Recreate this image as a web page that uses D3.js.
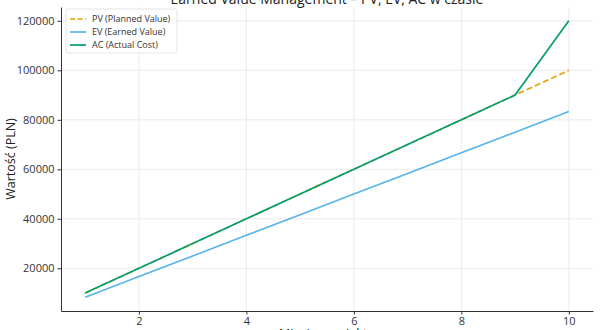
<!DOCTYPE html>
<html>
<head>
<meta charset="utf-8">
<script src="https://cdn.jsdelivr.net/npm/d3@7"></script>
<style>
  body { margin: 0; background: #fff; }
  svg { display: block; font-family: "Open Sans", sans-serif; }
  .tick text { fill: #333; font-size: 11px; font-family: "Open Sans", sans-serif; }
  .tick line { stroke: #333; }
  .domain { stroke: #333; }
</style>
</head>
<body>
<svg id="chart" width="600" height="330"></svg>
<script>
// months and series values (PLN)
var months = [1, 2, 3, 4, 5, 6, 7, 8, 9, 10];
var pv = [10000, 20000, 30000, 40000, 50000, 60000, 70000, 80000, 90000, 100000];
var ev = [8333, 16667, 25000, 33333, 41667, 50000, 58333, 66667, 75000, 83333];
var ac = [10000, 20000, 30000, 40000, 50000, 60000, 70000, 80000, 90000, 120000];
var xTicks = [2, 4, 6, 8, 10];
var yTicks = [20000, 40000, 60000, 80000, 100000, 120000];

var series = [
  {name: "PV (Planned Value)", values: pv, color: "#E69F00", dash: "6,3"},
  {name: "EV (Earned Value)", values: ev, color: "#56B4E9", dash: null},
  {name: "AC (Actual Cost)", values: ac, color: "#009E73", dash: null}
];

var svg = d3.select("#chart"),
    margin = {top: 7, right: 7, bottom: 19, left: 61},
    width = +svg.attr("width") - margin.left - margin.right,
    height = +svg.attr("height") - margin.top - margin.bottom,
    g = svg.append("g").attr("transform", "translate(" + margin.left + "," + margin.top + ")");

// matplotlib-like 5% padding
var xMin = d3.min(months), xMax = d3.max(months), xPad = (xMax - xMin) * 0.05;
var allY = pv.concat(ev, ac);
var yMin = d3.min(allY), yMax = d3.max(allY), yPad = (yMax - yMin) * 0.05;

var x = d3.scaleLinear().domain([xMin - xPad, xMax + xPad]).range([0, width]);
var y = d3.scaleLinear().domain([yMin - yPad, yMax + yPad]).range([height, 0]);

// grid
g.append("g").selectAll("line").data(xTicks).enter().append("line")
    .attr("x1", d => x(d)).attr("x2", d => x(d))
    .attr("y1", 0).attr("y2", height)
    .attr("stroke", "#e6e6e6").attr("stroke-width", 0.8);
g.append("g").selectAll("line").data(yTicks).enter().append("line")
    .attr("x1", 0).attr("x2", width)
    .attr("y1", d => y(d)).attr("y2", d => y(d))
    .attr("stroke", "#e6e6e6").attr("stroke-width", 0.8);

// axes
g.append("g")
    .attr("transform", "translate(0," + height + ")")
    .call(d3.axisBottom(x).tickValues(xTicks).tickSize(3.5).tickPadding(3).tickSizeOuter(0))
    .call(a => a.select(".domain").attr("stroke-width", 1));
g.append("g")
    .call(d3.axisLeft(y).tickValues(yTicks).tickFormat(d3.format("d")).tickSize(3.5).tickPadding(3).tickSizeOuter(0))
    .call(a => a.select(".domain").attr("stroke-width", 1));

var line = d3.line()
    .x((d, i) => x(months[i]))
    .y(d => y(d));

// draw PV first so AC covers it where they overlap
series.forEach(function(s) {
  g.append("path")
      .datum(s.values)
      .attr("fill", "none")
      .attr("stroke", s.color)
      .attr("stroke-width", 1.7)
      .attr("stroke-dasharray", s.dash)
      .attr("d", line);
});

// title and axis labels
svg.append("text")
    .attr("x", margin.left + width / 2).attr("y", 4)
    .attr("text-anchor", "middle")
    .attr("font-size", 14).attr("fill", "#222")
    .text("Earned Value Management – PV, EV, AC w czasie");
svg.append("text")
    .attr("x", margin.left + width / 2).attr("y", 337.5)
    .attr("text-anchor", "middle")
    .attr("font-size", 12.5).attr("fill", "#222")
    .text("Miesiąc projektu");
svg.append("text")
    .attr("transform", "translate(14.5," + (margin.top + height / 2) + ") rotate(-90)")
    .attr("text-anchor", "middle")
    .attr("font-size", 12.5).attr("fill", "#222")
    .text("Wartość (PLN)");

// legend
var leg = g.append("g").attr("transform", "translate(5,2)");
leg.append("rect")
    .attr("width", 111).attr("height", 44).attr("rx", 2)
    .attr("fill", "#fff").attr("fill-opacity", 0.8)
    .attr("stroke", "#ddd").attr("stroke-width", 0.8);
series.forEach(function(s, i) {
  var row = leg.append("g").attr("transform", "translate(4," + (10 + i * 13) + ")");
  row.append("line")
      .attr("x1", 0).attr("x2", 16)
      .attr("stroke", s.color).attr("stroke-width", 1.7)
      .attr("stroke-dasharray", s.dash ? "5,2.5" : null);
  row.append("text")
      .attr("x", 22).attr("dy", "0.35em")
      .attr("font-size", 9).attr("fill", "#333")
      .text(s.name);
});
</script>
</body>
</html>
